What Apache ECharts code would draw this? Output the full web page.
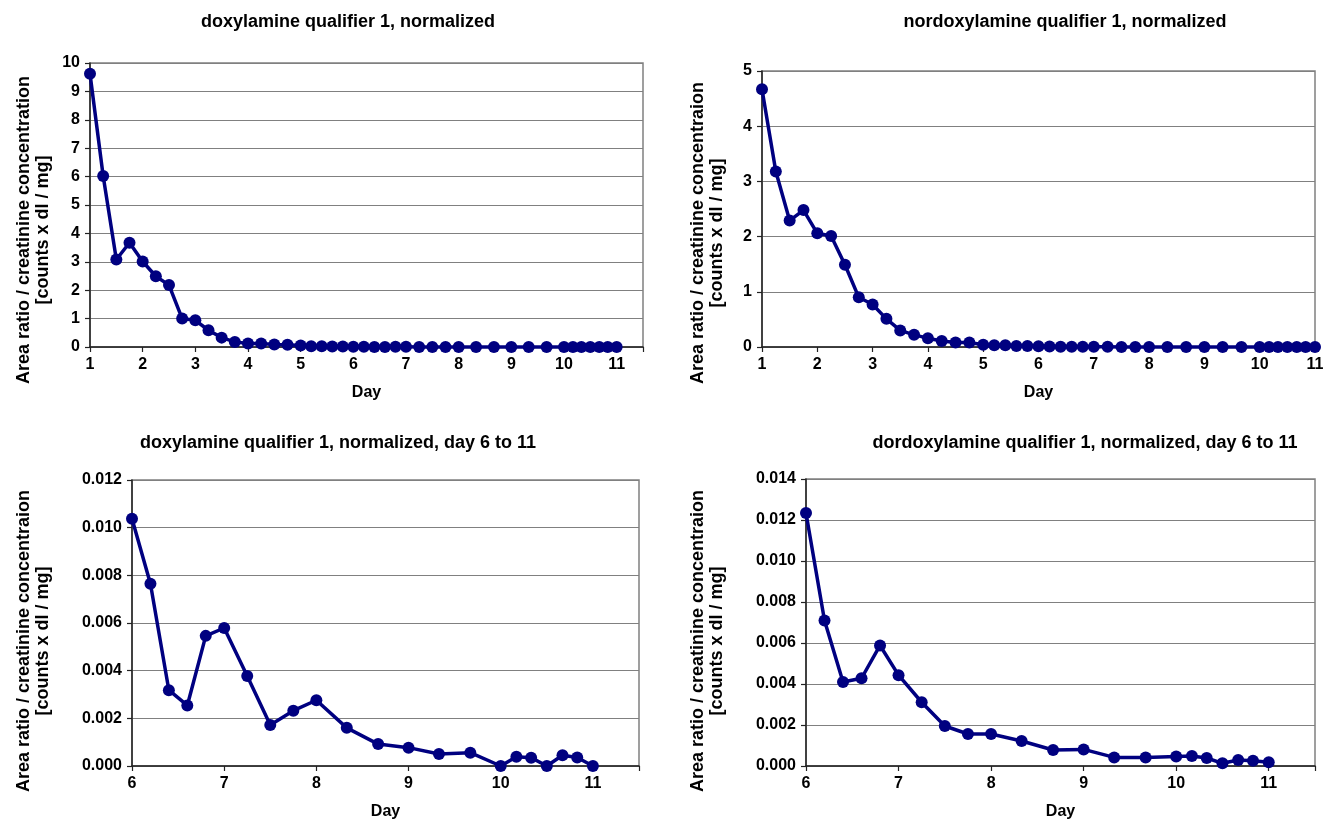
<!DOCTYPE html>
<html><head><meta charset="utf-8">
<script src="https://cdn.jsdelivr.net/npm/echarts@6/dist/echarts.min.js"></script>
<style>html,body{margin:0;padding:0;background:#fff}#c{width:1336px;height:822px}</style>
</head><body><div id="c"></div>
<script>
// ---- data ----
const earlyDays = [1, 1.25, 1.5, 1.75, 2, 2.25, 2.5, 2.75, 3, 3.25, 3.5, 3.75, 4, 4.25, 4.5, 4.75, 5, 5.2, 5.4, 5.6, 5.8];
const lateDays = [6, 6.2, 6.4, 6.6, 6.8, 7, 7.25, 7.5, 7.75, 8, 8.33, 8.67, 9, 9.33, 9.67, 10, 10.17, 10.33, 10.5, 10.67, 10.83, 11];
const doxEarly = [9.62, 6.02, 3.08, 3.67, 3.01, 2.49, 2.18, 1.0, 0.94, 0.59, 0.33, 0.18, 0.12, 0.12, 0.09, 0.08, 0.05, 0.03, 0.03, 0.02, 0.02];
const doxLate = [0.01037, 0.00765, 0.00318, 0.00254, 0.00546, 0.00579, 0.00378, 0.00172, 0.00232, 0.00276, 0.00160, 0.00092, 0.00077, 0.00050, 0.00056, 0.0, 0.00039, 0.00035, 0.0, 0.00045, 0.00036, 0.0];
const nordoxEarly = [4.67, 3.18, 2.29, 2.48, 2.06, 2.01, 1.49, 0.90, 0.77, 0.51, 0.30, 0.22, 0.16, 0.11, 0.08, 0.08, 0.04, 0.03, 0.03, 0.02, 0.02];
const nordoxLate = [0.01234, 0.00710, 0.00410, 0.00428, 0.00588, 0.00443, 0.00311, 0.00195, 0.00156, 0.00156, 0.00122, 0.00078, 0.00081, 0.00042, 0.00041, 0.00046, 0.00049, 0.00039, 0.00013, 0.00029, 0.00026, 0.00018];
const titles = [
  'doxylamine qualifier 1, normalized',
  'nordoxylamine qualifier 1, normalized',
  'doxylamine qualifier 1, normalized, day 6 to 11',
  'dordoxylamine qualifier 1, normalized, day 6 to 11'
];
const yNames = [
  'Area ratio / creatinine concentration\n[counts x dl / mg]',
  'Area ratio / creatinine concentraion\n[counts x dl / mg]',
  'Area ratio / creatinine concentraion\n[counts x dl / mg]',
  'Area ratio / creatinine concentraion\n[counts x dl / mg]'
];
const xName = 'Day';

// ---- layout ----
const FONT = "'Liberation Sans', Arial, sans-serif";
const NAVY = '#000080';
const grids = [
  {left: 90, top: 63, width: 553, height: 284},
  {left: 762, top: 71, width: 553, height: 276},
  {left: 132, top: 480, width: 507, height: 286},
  {left: 806, top: 479, width: 509, height: 287}
];
const xRanges = [[1, 11.5], [1, 11], [6, 11.5], [6, 11.5]];
const yRanges = [[0, 10, 1, 0], [0, 5, 1, 0], [0, 0.012, 0.002, 3], [0, 0.014, 0.002, 3]];
const titlePos = [[343, 8], [1060, 8], [333, 429], [1080, 429]];
const yNamePos = [[34, 230], [708, 233], [34, 641], [708, 641]];

function zip(xs, ys) { return xs.map((x, i) => [x, ys[i]]); }
const seriesData = [
  zip(earlyDays.concat(lateDays), doxEarly.concat(doxLate)),
  zip(earlyDays.concat(lateDays), nordoxEarly.concat(nordoxLate)),
  zip(lateDays, doxLate),
  zip(lateDays, nordoxLate)
];

const option = {
  animation: false,
  backgroundColor: '#fff',
  title: titles.map((t, i) => ({
    text: t, left: titlePos[i][0], top: titlePos[i][1], textAlign: 'center',
    textStyle: {fontFamily: FONT, fontWeight: 'bold', fontSize: 18, color: '#000'}
  })),
  grid: grids.map(g => Object.assign({show: true, borderColor: '#808080', borderWidth: 1.5, backgroundColor: '#fff', containLabel: false}, g)),
  xAxis: grids.map((g, i) => ({
    type: 'value', gridIndex: i, min: xRanges[i][0], max: xRanges[i][1], interval: 1,
    name: xName, nameLocation: 'middle', nameGap: 38,
    nameTextStyle: {fontFamily: FONT, fontWeight: 'bold', fontSize: 16, color: '#000'},
    axisLine: {show: true, onZero: false, lineStyle: {color: '#222', width: 1.5}},
    axisTick: {show: true, length: 5, lineStyle: {color: '#222', width: 1.2}},
    axisLabel: {fontFamily: FONT, fontWeight: 'bold', fontSize: 16, color: '#000', margin: 10,
      showMaxLabel: true, formatter: v => Number.isInteger(v) ? String(v) : ''},
    splitLine: {show: false}
  })),
  yAxis: grids.map((g, i) => ({
    type: 'value', gridIndex: i, min: yRanges[i][0], max: yRanges[i][1], interval: yRanges[i][2],
    axisLine: {show: true, onZero: false, lineStyle: {color: '#222', width: 1.5}},
    axisTick: {show: true, length: 5, lineStyle: {color: '#222', width: 1.2}},
    axisLabel: {fontFamily: FONT, fontWeight: 'bold', fontSize: 16, color: '#000', margin: 10,
      formatter: v => v.toFixed(yRanges[i][3])},
    splitLine: {show: true, lineStyle: {color: '#808080', width: 1.2}}
  })),
  graphic: yNames.map((n, i) => ({
    type: 'text', x: yNamePos[i][0], y: yNamePos[i][1], rotation: Math.PI / 2,
    style: {text: n, fontFamily: FONT, fontWeight: 'bold', fontSize: 18, lineHeight: 19,
      fill: '#000', align: 'center', verticalAlign: 'middle'}
  })),
  series: seriesData.map((d, i) => ({
    type: 'line', xAxisIndex: i, yAxisIndex: i, data: d, clip: false,
    symbol: 'circle', symbolSize: 12,
    lineStyle: {color: NAVY, width: 3.5},
    itemStyle: {color: NAVY}
  }))
};
echarts.init(document.getElementById('c')).setOption(option);
</script></body></html>
